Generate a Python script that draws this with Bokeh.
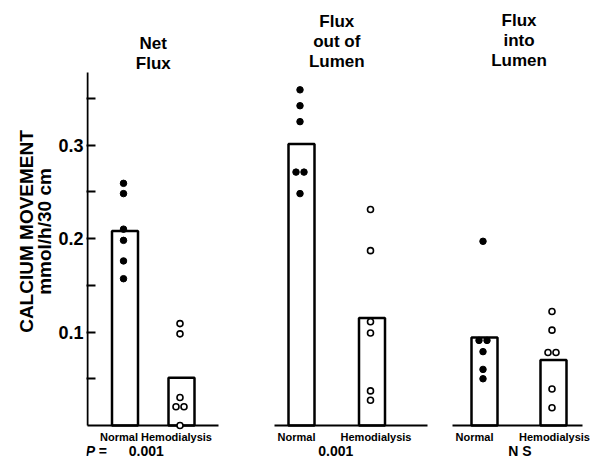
from bokeh.plotting import figure
from bokeh.models import Range1d, FixedTicker
from bokeh.embed import file_html
from bokeh.resources import INLINE
from bokeh.core.properties import value

# ---------------- data ----------------
title_lines = [["Net", "Flux"], ["Flux", "out of", "Lumen"], ["Flux", "into", "Lumen"]]
groups = ["Normal", "Hemodialysis"]
p_values = ["0.001", "0.001", "N S"]
normal_mean = [0.208, 0.301, 0.094]
hemo_mean = [0.051, 0.115, 0.070]
normal_points = [
    [0.259, 0.248, 0.210, 0.198, 0.176, 0.157],
    [0.359, 0.342, 0.325, 0.271, 0.271, 0.248],
    [0.197, 0.091, 0.091, 0.079, 0.060, 0.050],
]
hemo_points = [
    [0.109, 0.098, 0.030, 0.020, 0.020, 0.000],
    [0.231, 0.187, 0.111, 0.099, 0.037, 0.027],
    [0.122, 0.102, 0.078, 0.078, 0.039, 0.019],
]
y_ticks = [0.1, 0.2, 0.3]
y_minor_ticks = [0.05, 0.15, 0.25, 0.35]
y_title = "CALCIUM MOVEMENT\nmmol/h/30 cm"
p_prefix = "P ="

# ---------------- layout (pixels) ----------------
W, H = 598, 462
FRAME_LEFT = 86
SPINE_X = 87
SPINE_TOP_PX = 72
NORMAL_X = [124.5, 301.0, 484.0]
PAIR_GAP = [56.5, 70.5, 69.0]
BASE_EXT = [(87, 218), (274, 427), (452, 582)]
TITLE_TOP = [43.0, 21.0, 19.5]
LINE_STEP = 20.0
GROUP_ROW_PX = 436
GROUP_LABEL_SHIFT = [(-6, -5), (-5, 4), (-10, 1)]
P_ROW_PX = 450
P_SHIFT = [-7, -1, 1]
PX_PER_UNIT = 935.0
BASE_PY = 425.0
BAR_W = 26
DOT_SHIFT = -1.5
PAIR_SPREAD = 4.0
FONT = "Liberation Sans"


def y_of(py):
    return (BASE_PY - py) / PX_PER_UNIT


p = figure(width=W, height=H,
           x_range=Range1d(FRAME_LEFT, W),
           y_range=Range1d(y_of(H), y_of(0)),
           min_border_left=FRAME_LEFT, min_border_right=0,
           min_border_top=0, min_border_bottom=0,
           x_axis_type=None, output_backend="svg", toolbar_location=None)
p.grid.visible = False
p.outline_line_color = None
p.background_fill_color = "white"
p.border_fill_color = "white"

ax = p.yaxis[0]
ax.ticker = FixedTicker(ticks=y_ticks, minor_ticks=y_minor_ticks)
ax.axis_line_color = None
ax.major_tick_in = 9
ax.major_tick_out = 0
ax.minor_tick_in = 9
ax.minor_tick_out = 0
ax.major_tick_line_width = 2
ax.minor_tick_line_width = 2
ax.major_tick_line_color = "black"
ax.minor_tick_line_color = "black"
ax.major_label_text_font = FONT
ax.major_label_text_font_size = "18px"
ax.major_label_text_font_style = "bold"
ax.major_label_text_color = "black"
ax.major_label_standoff = 3
ax.axis_label = y_title
ax.axis_label_text_font = FONT
ax.axis_label_text_font_size = "19px"
ax.axis_label_text_font_style = "bold"
ax.axis_label_text_color = "black"
ax.axis_label_text_line_height = 0.9
ax.axis_label_standoff = 0

# axis spine (from zero up to the top of the scale)
p.segment(x0=[SPINE_X], y0=[0], x1=[SPINE_X], y1=[y_of(SPINE_TOP_PX)],
          line_color="black", line_width=2)

# bars
bar_x, bar_top = [], []
for i in range(3):
    bar_x += [NORMAL_X[i], NORMAL_X[i] + PAIR_GAP[i]]
    bar_top += [normal_mean[i], hemo_mean[i]]
p.vbar(x=bar_x, width=BAR_W, bottom=0, top=bar_top,
       fill_color="white", line_color="black", line_width=2.5)

# baselines
p.segment(x0=[e[0] for e in BASE_EXT], y0=[0] * 3,
          x1=[e[1] for e in BASE_EXT], y1=[0] * 3,
          line_color="black", line_width=2)


def spread(center, vals):
    xs = []
    for k, v in enumerate(vals):
        same = [j for j, w in enumerate(vals) if abs(w - v) < 0.004]
        off = 0
        if len(same) > 1:
            idx = same.index(k)
            off = (idx - (len(same) - 1) / 2) * 2 * PAIR_SPREAD
        xs.append(center + DOT_SHIFT + off)
    return xs


nx, ny, hx, hy = [], [], [], []
for i in range(3):
    nx += spread(NORMAL_X[i], normal_points[i])
    ny += normal_points[i]
    hx += spread(NORMAL_X[i] + PAIR_GAP[i], hemo_points[i])
    hy += hemo_points[i]
p.scatter(nx, ny, size=6.5, marker="circle", fill_color="black", line_color="black")
p.scatter(hx, hy, size=6, marker="circle", fill_color="white",
          line_color="black", line_width=1.6)

# panel titles
tx, ty, tt = [], [], []
for i in range(3):
    cx = NORMAL_X[i] + PAIR_GAP[i] / 2
    for k, t in enumerate(title_lines[i]):
        tx.append(cx)
        ty.append(y_of(TITLE_TOP[i] + k * LINE_STEP))
        tt.append(t)
p.text(x=tx, y=ty, text=tt, text_align="center", text_baseline="middle",
       text_font=value(FONT), text_font_size="17px", text_font_style="bold",
       text_color="black")

# group labels
gx = []
for i in range(3):
    gx += [bar_x[2 * i] + GROUP_LABEL_SHIFT[i][0],
           bar_x[2 * i + 1] + GROUP_LABEL_SHIFT[i][1]]
p.text(x=gx, y=[y_of(GROUP_ROW_PX)] * len(gx), text=groups * 3,
       text_align="center", text_baseline="middle",
       text_font=value(FONT), text_font_size="11px", text_font_style="bold",
       text_color="black")

# p values
p.text(x=[SPINE_X + 9], y=[y_of(P_ROW_PX)], text=[p_prefix],
       text_align="center", text_baseline="middle",
       text_font=value(FONT), text_font_size="14px",
       text_font_style="bold italic", text_color="black")
p.text(x=[NORMAL_X[i] + PAIR_GAP[i] / 2 + P_SHIFT[i] for i in range(3)],
       y=[y_of(P_ROW_PX)] * 3, text=p_values,
       text_align="center", text_baseline="middle",
       text_font=value(FONT), text_font_size="14px", text_font_style="bold",
       text_color="black")

open("out.html", "w").write(file_html(p, INLINE))
